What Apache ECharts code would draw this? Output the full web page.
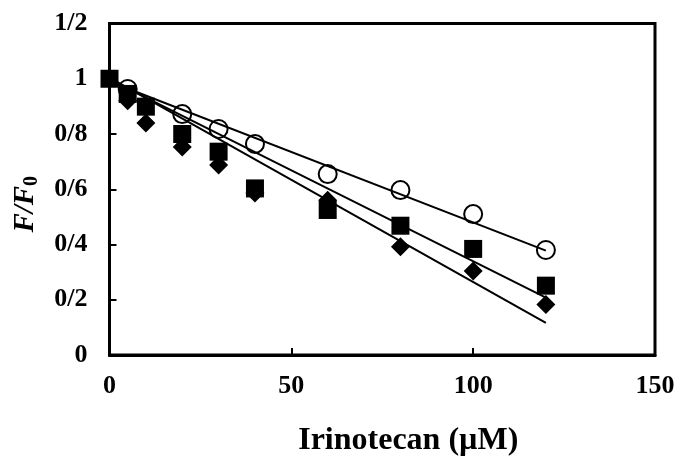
<!DOCTYPE html>
<html>
<head>
<meta charset="utf-8">
<script src="https://cdn.jsdelivr.net/npm/echarts@6/dist/echarts.min.js"></script>
<style>
html,body{margin:0;padding:0;background:#fff;}
#chart{width:677px;height:457px;}
</style>
</head>
<body>
<div id="chart"></div>
<script>
// Data
var concCircle = [5, 20, 30, 40, 60, 80, 100, 120];
var valCircle  = [0.963, 0.872, 0.818, 0.764, 0.655, 0.597, 0.510, 0.380];

var concSquare = [0, 5, 10, 20, 30, 40, 60, 80, 100, 120];
var valSquare  = [1.0, 0.945, 0.899, 0.800, 0.736, 0.603, 0.525, 0.468, 0.384, 0.251];

var concDiamond = [5, 10, 20, 30, 40, 60, 80, 100, 120];
var valDiamond  = [0.920, 0.840, 0.753, 0.688, 0.586, 0.560, 0.392, 0.304, 0.183];

// Trend line endpoints (x = 0 and x = 120)
var trendX = [0, 120];
var trendCircle  = [0.990, 0.378];
var trendSquare  = [0.998, 0.208];
var trendDiamond = [1.004, 0.116];

var xTicks = [0, 50, 100, 150];
var yTicks = [0, 0.2, 0.4, 0.6, 0.8, 1.0, 1.2];

function pairs(xs, ys){ return xs.map(function(x,i){ return [x, ys[i]]; }); }

var FONT = '"Liberation Serif", "Times New Roman", serif';
var chart = echarts.init(document.getElementById('chart'), null, {renderer:'canvas'});

function trend(ys){
  return {type:'line', data: pairs(trendX, ys), showSymbol:false, symbol:'none',
    lineStyle:{color:'#000', width:2}, silent:true, z:1, animation:false};
}

chart.setOption({
  animation:false,
  backgroundColor:'#fff',
  grid:{left:109.5, right:22, top:23.5, bottom:102, show:true, borderColor:'#000', borderWidth:3,
        containLabel:false, outerBoundsMode:'none'},
  xAxis:{
    type:'value', min:xTicks[0], max:xTicks[xTicks.length-1], interval:50,
    name:'Irinotecan (\u00b5M)', nameLocation:'middle', nameGap:70,
    nameTextStyle:{fontFamily:FONT, fontWeight:'bold', fontSize:32, color:'#000', padding:[0,0,0,52]},
    axisLine:{show:true, lineStyle:{color:'#000', width:3}},
    axisTick:{show:true, inside:true, length:7, lineStyle:{color:'#000', width:2}},
    axisLabel:{fontFamily:FONT, fontWeight:'bold', fontSize:26, color:'#000', margin:18},
    splitLine:{show:false}
  },
  yAxis:{
    type:'value', min:yTicks[0], max:yTicks[yTicks.length-1], interval:0.2,
    name:'{i|F/F}{s|0}', nameLocation:'middle', nameGap:68, nameRotate:90,
    nameTextStyle:{
      color:'#000', padding:[0,30,0,0],
      rich:{
        i:{fontFamily:FONT, fontWeight:'bold', fontStyle:'italic', fontSize:29, color:'#000'},
        s:{fontFamily:FONT, fontWeight:'bold', fontSize:20, color:'#000', verticalAlign:'bottom', padding:[12,0,0,0]}
      }
    },
    axisLine:{show:true, lineStyle:{color:'#000', width:3}},
    axisTick:{show:true, inside:true, length:7, lineStyle:{color:'#000', width:2}},
    axisLabel:{fontFamily:FONT, fontWeight:'bold', fontSize:26, color:'#000', margin:22,
      formatter:function(v){ return (Math.round(v*10)/10).toString().replace('.', '/'); }},
    splitLine:{show:false}
  },
  series:[
    trend(trendCircle), trend(trendSquare), trend(trendDiamond),
    {type:'scatter', data: pairs(concDiamond, valDiamond), symbol:'diamond', symbolSize:19,
      itemStyle:{color:'#000', opacity:1}, z:2},
    {type:'scatter', data: pairs(concSquare, valSquare), symbol:'rect', symbolSize:18,
      itemStyle:{color:'#000', opacity:1}, z:3},
    {type:'scatter', data: pairs(concCircle, valCircle), symbol:'circle', symbolSize:18,
      itemStyle:{color:'rgba(0,0,0,0)', borderColor:'#000', borderWidth:2, opacity:1}, z:4}
  ]
});
</script>
</body>
</html>
